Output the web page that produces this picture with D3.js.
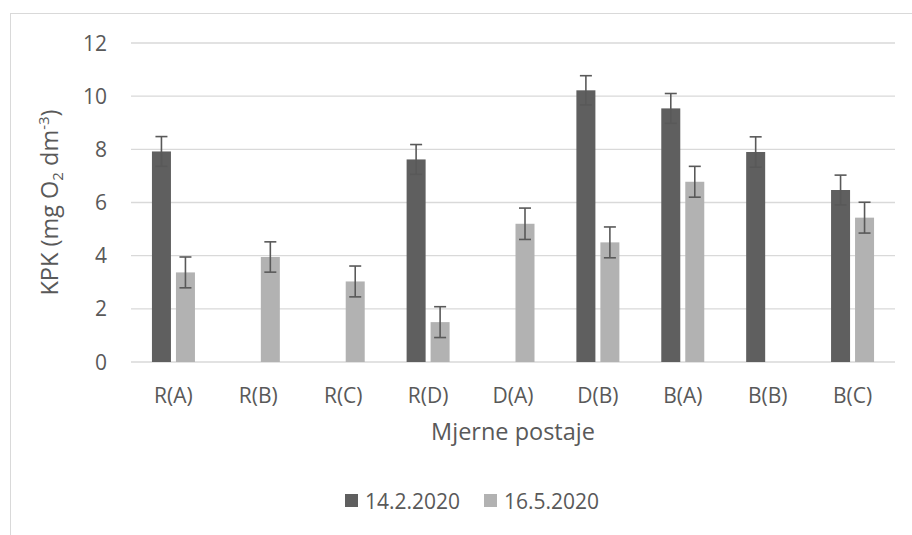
<!DOCTYPE html>
<html lang="hr">
<head>
    <meta charset="UTF-8">
    <title>KPK po mjernim postajama</title>
    <script src="https://d3js.org/d3.v7.min.js"></script>
    <style>
        body { margin: 0; background: #fff; }
        svg text {
            font-family: "Open Sans", Lato, sans-serif;
            fill: #595959;
        }
    </style>
</head>
<body>
    <svg id="chart" width="912" height="535"></svg>

    <script>
        // Data
        const stations = ["R(A)", "R(B)", "R(C)", "R(D)", "D(A)", "D(B)", "B(A)", "B(B)", "B(C)"];
        const seriesNames = ["14.2.2020", "16.5.2020"];
        const febValues = [7.92, null, null, 7.62, null, 10.22, 9.54, 7.9, 6.47];
        const febErrors = [0.56, null, null, 0.56, null, 0.55, 0.56, 0.57, 0.56];
        const mayValues = [3.37, 3.95, 3.03, 1.5, 5.2, 4.5, 6.78, null, 5.43];
        const mayErrors = [0.58, 0.57, 0.58, 0.58, 0.59, 0.58, 0.58, null, 0.58];
        const yTicks = [0, 2, 4, 6, 8, 10, 12];

        const colors = { "14.2.2020": "#5f5f5f", "16.5.2020": "#b2b2b2" };
        const errColor = "#595959";
        const labelSize = "21px", titleSize = "23.5px";

        const svg = d3.select("#chart");

        // Outer frame (only left and top visible)
        svg.append("rect")
            .attr("x", 10.5).attr("y", 13.5)
            .attr("width", 920).attr("height", 540)
            .attr("fill", "none")
            .attr("stroke", "#d9d9d9")
            .attr("stroke-width", 1);

        const plotLeft = 131, plotRight = 895, plotTop = 43, plotBottom = 362;

        const x = d3.scaleBand().domain(stations).range([plotLeft, plotRight]);
        const bw = x.bandwidth();
        const xInner = d3.scaleBand()
            .domain(seriesNames)
            .range([bw / 2 - 21.5, bw / 2 + 21.5])
            .paddingInner(0.208);
        const y = d3.scaleLinear().domain([0, 12]).range([plotBottom, plotTop]);

        // gridlines
        svg.append("g").selectAll("line")
            .data(yTicks)
            .enter().append("line")
            .attr("x1", plotLeft).attr("x2", plotRight)
            .attr("y1", d => y(d)).attr("y2", d => y(d))
            .attr("stroke", "#d9d9d9")
            .attr("stroke-width", 1.3);

        // y tick labels
        svg.append("g").selectAll("text")
            .data(yTicks)
            .enter().append("text")
            .attr("x", 107)
            .attr("y", d => y(d))
            .attr("dy", "0.36em")
            .attr("text-anchor", "end")
            .style("font-size", labelSize)
            .text(d => d);

        // build records per series
        const records = [];
        stations.forEach((s, i) => {
            if (febValues[i] != null) records.push({ station: s, series: seriesNames[0], value: febValues[i], err: febErrors[i] });
            if (mayValues[i] != null) records.push({ station: s, series: seriesNames[1], value: mayValues[i], err: mayErrors[i] });
        });

        const barX = d => x(d.station) + xInner(d.series);

        svg.append("g").selectAll("rect")
            .data(records)
            .enter().append("rect")
            .attr("x", barX)
            .attr("y", d => y(d.value))
            .attr("width", xInner.bandwidth())
            .attr("height", d => y(0) - y(d.value))
            .attr("fill", d => colors[d.series]);

        // error bars
        const eb = svg.append("g")
            .attr("stroke", errColor)
            .attr("stroke-width", 1.6);
        const cap = 6;
        records.forEach(d => {
            const cx = barX(d) + xInner.bandwidth() / 2;
            const y1 = y(d.value + d.err), y0 = y(d.value - d.err);
            eb.append("line").attr("x1", cx).attr("x2", cx).attr("y1", y1).attr("y2", y0);
            eb.append("line").attr("x1", cx - cap).attr("x2", cx + cap).attr("y1", y1).attr("y2", y1);
            eb.append("line").attr("x1", cx - cap).attr("x2", cx + cap).attr("y1", y0).attr("y2", y0);
        });

        // x labels
        svg.append("g").selectAll("text")
            .data(stations)
            .enter().append("text")
            .attr("x", d => x(d) + bw / 2)
            .attr("y", 395)
            .attr("dy", "0.36em")
            .attr("text-anchor", "middle")
            .style("font-size", labelSize)
            .text(d => d);

        // x axis title
        svg.append("text")
            .attr("x", (plotLeft + plotRight) / 2)
            .attr("y", 440)
            .attr("text-anchor", "middle")
            .style("font-size", titleSize)
            .text("Mjerne postaje");

        // y axis title with subscript and superscript
        const yt = svg.append("text")
            .attr("transform", "translate(58," + ((plotTop + plotBottom) / 2) + ") rotate(-90)")
            .attr("text-anchor", "middle")
            .style("font-size", titleSize);
        yt.append("tspan").text("KPK (mg O");
        yt.append("tspan").attr("dy", "5").style("font-size", "15px").text("2");
        yt.append("tspan").attr("dy", "-5").text(" dm");
        yt.append("tspan").attr("dy", "-9").style("font-size", "15px").text("-3");
        yt.append("tspan").attr("dy", "9").text(")");

        // legend
        const legend = svg.append("g");
        const legendX = [345, 484];
        seriesNames.forEach((s, i) => {
            legend.append("rect")
                .attr("x", legendX[i]).attr("y", 494)
                .attr("width", 13).attr("height", 13)
                .attr("fill", colors[s]);
            legend.append("text")
                .attr("x", legendX[i] + 20)
                .attr("y", 501)
                .attr("dy", "0.36em")
                .style("font-size", labelSize)
                .text(s);
        });
    </script>
</body>
</html>
